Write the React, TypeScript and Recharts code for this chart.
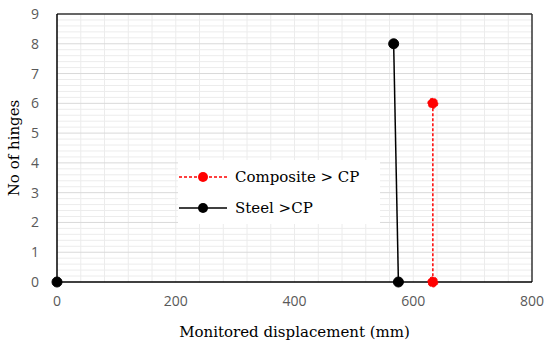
import React from 'react';
import {
  ComposedChart,
  Line,
  XAxis,
  YAxis,
  ReferenceLine,
  Label
} from 'recharts';

// steel: a lone point at the origin, then the drop segment
const steelData = [
  { x: 0, y: 0 },
  { x: 0, y: null },
  { x: 567, y: 8 },
  { x: 575, y: 0 }
];
const compositeData = [
  { x: 633, y: 6 },
  { x: 633, y: 0 }
];
const xTicks = [0, 200, 400, 600, 800];
const yTicks = [0, 1, 2, 3, 4, 5, 6, 7, 8, 9];

const vGrid: number[] = [];
for (let v = 40; v < 800; v += 40) vGrid.push(v);
const hMinor: number[] = [];
for (let i = 1; i < 45; i++) if (i % 5 !== 0) hMinor.push(i / 5);

const serif = '"DejaVu Serif", serif';
const tickStyle = { fontFamily: '"Open Sans", sans-serif', fontSize: 14, fill: '#595959' };

const legendItems = [
  { name: 'Composite > CP', color: '#ff0000', dash: '3 2' },
  { name: 'Steel >CP', color: '#000', dash: undefined }
];

function LegendBox() {
  return (
    <div style={{ position: 'absolute', left: 178, top: 160, background: '#fff', width: 202, padding: '1px 0', fontFamily: serif, fontSize: 15, color: '#000' }}>
      {legendItems.map((e) => (
        <div key={e.name} style={{ display: 'flex', alignItems: 'center', height: 31 }}>
          <svg width={50} height={14} style={{ marginRight: 7 }}>
            <line x1={1} y1={7} x2={49} y2={7} stroke={e.color} strokeWidth={1.5} strokeDasharray={e.dash} />
            <circle cx={25} cy={7} r={5} fill={e.color} />
          </svg>
          <span>{e.name}</span>
        </div>
      ))}
    </div>
  );
}

export default function App() {
  return (
    <div style={{ position: 'absolute', left: 0, top: 0, width: 550, height: 349, background: '#fff' }}>
      <ComposedChart width={550} height={349} margin={{ top: 14, right: 18, left: 0, bottom: 0 }}>
        {vGrid.map((v) => (
          <ReferenceLine key={`v${v}`} x={v} stroke="#ececec" strokeWidth={1} />
        ))}
        {hMinor.map((v) => (
          <ReferenceLine key={`h${v}`} y={v} stroke="#ececec" strokeWidth={1} />
        ))}
        {yTicks.slice(1, -1).map((v) => (
          <ReferenceLine key={`m${v}`} y={v} stroke="#d9d9d9" strokeWidth={1} />
        ))}
        <ReferenceLine y={9} stroke="#333" strokeWidth={1.5} />
        <ReferenceLine x={800} stroke="#333" strokeWidth={1.5} />
        <XAxis
          type="number"
          dataKey="x"
          domain={[0, 800]}
          ticks={xTicks}
          height={67}
          tick={tickStyle}
          tickLine={false}
          axisLine={{ stroke: '#000', strokeWidth: 1.5 }}
          tickMargin={8}
        >
          <Label value="Monitored displacement (mm)" position="insideBottom" offset={12} style={{ fontFamily: serif, fontSize: 15, fill: '#000' }} />
        </XAxis>
        <YAxis
          type="number"
          dataKey="y"
          domain={[0, 9]}
          ticks={yTicks}
          width={57}
          tick={tickStyle}
          tickLine={false}
          axisLine={{ stroke: '#000', strokeWidth: 1.5 }}
          tickMargin={12}
        >
          <Label value="No of hinges" angle={-90} position="insideLeft" offset={14} style={{ fontFamily: serif, fontSize: 15, fill: '#000', textAnchor: 'middle' }} />
        </YAxis>
        <Line
          data={compositeData}
          dataKey="y"
          stroke="#ff0000"
          strokeWidth={1.5}
          strokeDasharray="3 2"
          dot={{ r: 5, fill: '#ff0000', stroke: '#ff0000', strokeWidth: 1 }}
          isAnimationActive={false}
        />
        <Line
          data={steelData}
          dataKey="y"
          stroke="#000"
          strokeWidth={1.5}
          dot={{ r: 5, fill: '#000', stroke: '#000', strokeWidth: 1 }}
          isAnimationActive={false}
        />
      </ComposedChart>
      <LegendBox />
    </div>
  );
}
